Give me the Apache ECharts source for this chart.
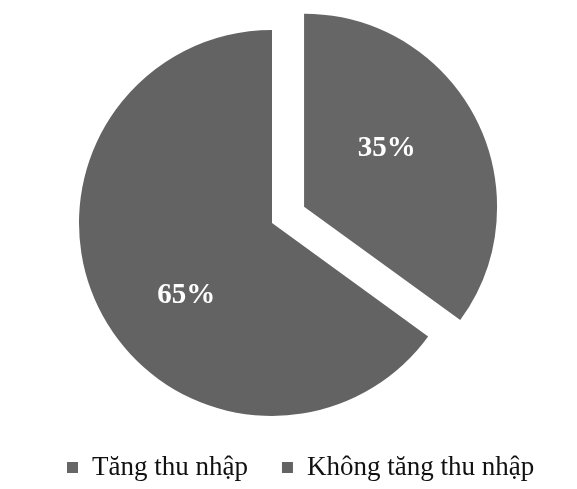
<!DOCTYPE html>
<html>
<head>
<meta charset="utf-8">
<script src="https://cdn.jsdelivr.net/npm/echarts@6/dist/echarts.min.js"></script>
<style>
html,body{margin:0;padding:0;background:#fff;}
#chart{width:577px;height:489px;}
</style>
</head>
<body>
<div id="chart"></div>
<script>
var categories = ['Tăng thu nhập', 'Không tăng thu nhập'];
var values = [35, 65];
var sliceColors = ['#666666', '#636363'];
var labelShift = [[-6, -13], [3, 27]];

var chart = echarts.init(document.getElementById('chart'), null, {renderer: 'canvas'});
var data = categories.map(function (c, i) {
  return {
    name: c,
    value: values[i],
    selected: i === 0,
    itemStyle: {color: sliceColors[i]}
  };
});
chart.setOption({
  animation: false,
  backgroundColor: '#ffffff',
  legend: {
    data: categories,
    left: 62,
    top: 449,
    icon: 'rect',
    itemWidth: 11,
    itemHeight: 11,
    itemGap: 34,
    selectedMode: false,
    textStyle: {
      fontFamily: '"Liberation Serif", "Times New Roman", serif',
      fontSize: 27,
      color: '#111',
      padding: [0, 0, 0, 9]
    }
  },
  series: [{
    type: 'pie',
    center: [272, 223],
    radius: 193,
    startAngle: 90,
    clockwise: true,
    selectedMode: 'single',
    selectedOffset: 36,
    avoidLabelOverlap: false,
    label: {
      show: true,
      position: 'inside',
      formatter: '{c}%',
      fontFamily: '"Liberation Serif", "Times New Roman", serif',
      fontWeight: 'bold',
      fontSize: 29,
      color: '#ffffff'
    },
    labelLine: {show: false},
    labelLayout: function (params) {
      var s = labelShift[params.dataIndex];
      return {dx: s[0], dy: s[1]};
    },
    emphasis: {disabled: true},
    data: data
  }]
});
</script>
</body>
</html>
